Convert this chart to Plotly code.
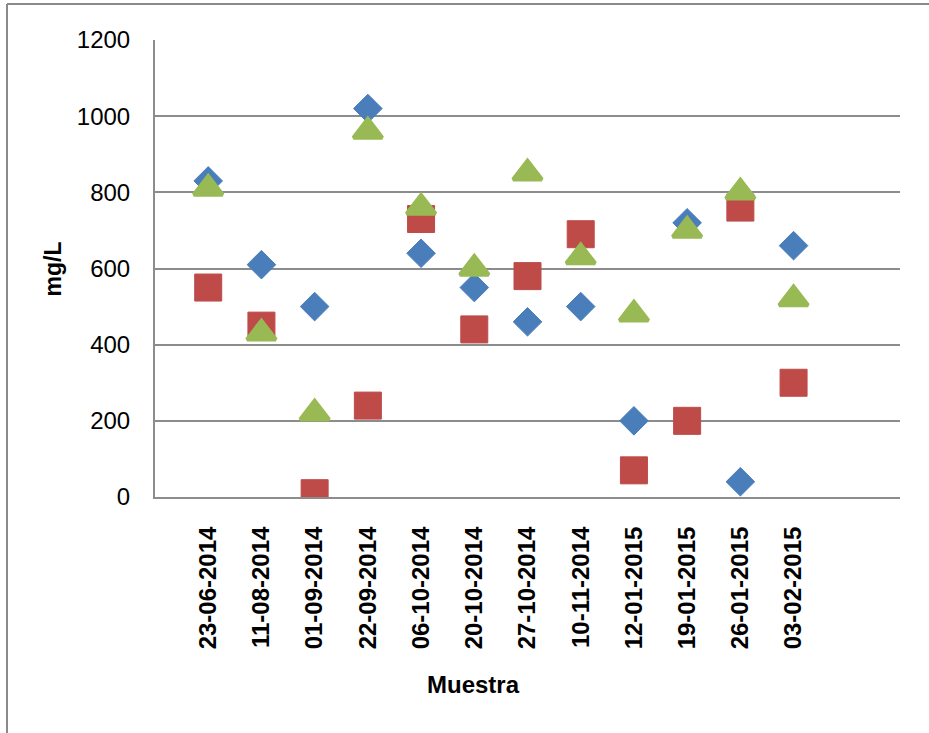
import plotly.graph_objects as go

# Sampling dates (category labels) and the three measured series, mg/L
fechas = ["23-06-2014", "11-08-2014", "01-09-2014", "22-09-2014", "06-10-2014",
          "20-10-2014", "27-10-2014", "10-11-2014", "12-01-2015", "19-01-2015",
          "26-01-2015", "03-02-2015"]
serie_azul = [830, 610, 500, 1020, 640, 550, 460, 500, 200, 720, 40, 660]
serie_roja = [550, 450, 10, 240, 730, 440, 580, 690, 70, 200, 760, 300]
serie_verde = [810, 430, 220, 960, 760, 600, 850, 630, 480, 700, 800, 520]

y_ticks = [0, 200, 400, 600, 800, 1000, 1200]

pos = list(range(1, len(fechas) + 1))

GRID = "#8c8c8c"

fig = go.Figure()
fig.add_trace(go.Scatter(
    x=pos, y=serie_azul, mode="markers", name="A",
    marker=dict(symbol="diamond", size=22, color="#4a7ebb",
                line=dict(width=1, color="#4a7ebb"))))
fig.add_trace(go.Scatter(
    x=pos, y=serie_roja, mode="markers", name="B",
    marker=dict(symbol="square", size=27, color="#be4b48",
                line=dict(width=1, color="#be4b48"))))
fig.add_trace(go.Scatter(
    x=pos, y=serie_verde, mode="markers", name="C",
    marker=dict(symbol="triangle-up", size=25, color="#98b954",
                line=dict(width=4, color="#98b954"))))

fig.update_layout(
    width=929, height=733,
    margin=dict(l=155, r=29, t=40, b=236),
    paper_bgcolor="white", plot_bgcolor="white",
    showlegend=False,
    xaxis=dict(
        range=[0, 14], tickmode="array", tickvals=pos, ticktext=fechas,
        tickangle=-90, showgrid=False, zeroline=False,
        showline=True, linecolor=GRID, linewidth=2,
        ticks="outside", ticklen=18, tickcolor="rgba(0,0,0,0)",
        tickfont=dict(family="Liberation Sans", size=24, color="black",
                      weight="bold"),
    ),
    yaxis=dict(
        range=[0, 1200], tickmode="array", tickvals=y_ticks,
        showgrid=True, gridcolor=GRID, gridwidth=2, zeroline=False,
        showline=True, linecolor=GRID, linewidth=2,
        ticks="outside", ticklen=18, tickcolor="rgba(0,0,0,0)",
        tickfont=dict(family="Liberation Sans", size=24, color="black"),
    ),
    annotations=[
        dict(text="<b>mg/L</b>", xref="paper", yref="paper",
             x=(52 - 155) / 745, y=0.5, xanchor="center", yanchor="middle",
             textangle=-90, showarrow=False,
             font=dict(family="Liberation Sans", size=23, color="black")),
        dict(text="<b>Muestra</b>", xref="paper", yref="paper",
             x=(473 - 155) / 745, y=(497 - 684) / 457,
             xanchor="center", yanchor="middle", showarrow=False,
             font=dict(family="Liberation Sans", size=24, color="black")),
    ],
    shapes=[
        # outer chart-area frame (top and left edges)
        dict(type="line", xref="paper", yref="paper",
             x0=(7 - 155) / 745, x1=(935 - 155) / 745,
             y0=(497 - 4) / 457, y1=(497 - 4) / 457,
             line=dict(color="#8a8a8a", width=2)),
        dict(type="line", xref="paper", yref="paper",
             x0=(7 - 155) / 745, x1=(7 - 155) / 745,
             y0=(497 - 4) / 457, y1=(497 - 740) / 457,
             line=dict(color="#8a8a8a", width=2)),
    ],
)

fig.write_html("out.html")
